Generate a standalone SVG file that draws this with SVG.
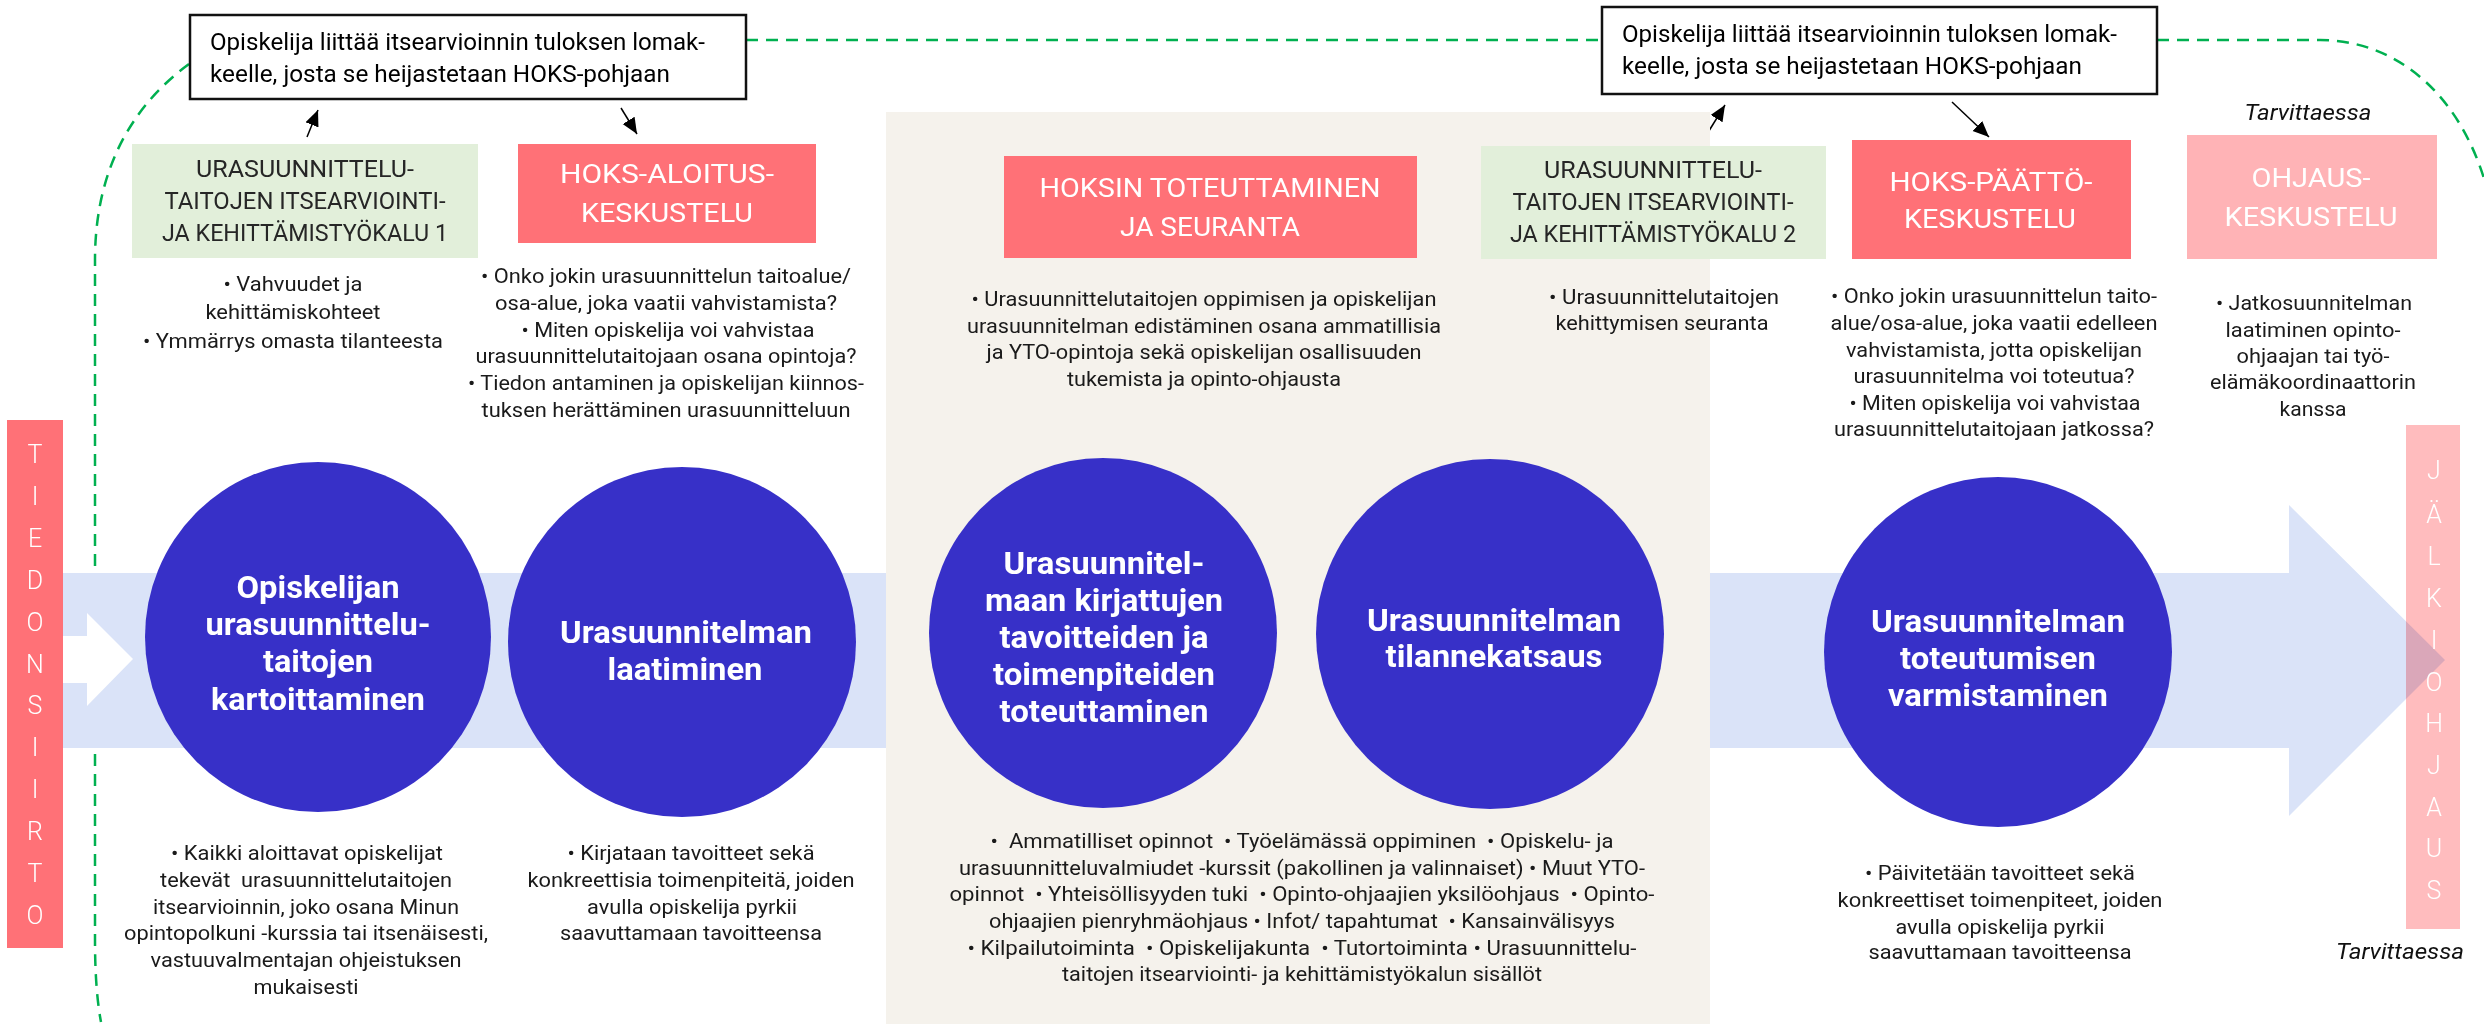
<svg xmlns="http://www.w3.org/2000/svg" width="2484" height="1024" viewBox="0 0 2484 1024">
<defs>
<style>
text{font-family:Roboto,"Liberation Sans",sans-serif}
.bt{font-size:24px;fill:#000}
.b{font-size:21px;fill:#1a1a1a;text-anchor:middle}
.gt{font-size:24px;fill:#262626;text-anchor:middle}
.rt{font-size:26px;fill:#fff;text-anchor:middle;font-weight:400}
.ct{font-size:31px;fill:#fff;text-anchor:middle;font-weight:bold}
.vt{font-size:25px;fill:#fff;text-anchor:middle;font-weight:300}
.it{font-size:22px;fill:#111;text-anchor:middle;font-style:italic}
.pre{white-space:pre}
.dash{fill:none;stroke:#00B050;stroke-width:2.5;stroke-dasharray:12 8}
.arr{stroke:#000;stroke-width:1.5;fill:none}
.red{fill:#FF7177}
.green{fill:#E2EFDA}
.circ{fill:#3730C8}
</style>
<marker id="ah" markerUnits="userSpaceOnUse" markerWidth="17" markerHeight="15" refX="16" refY="7" orient="auto">
<path d="M0,0 L16,7 L0,14 z" fill="#000"/>
</marker>
</defs>
<rect width="2484" height="1024" fill="#fff"/>

<g id="connectors">
<path class="dash" d="M746,40 H1602"/>
<path class="dash" d="M189,64 C140,100 95,160 95,260 V940 Q95,990 101,1022"/>
<path class="dash" d="M2157,40 H2320 C2400,40 2470,100 2492,210"/>
<line class="arr" x1="307" y1="137" x2="318" y2="110" marker-end="url(#ah)"/>
<line class="arr" x1="621" y1="108" x2="637" y2="134" marker-end="url(#ah)"/>
<line class="arr" x1="1707" y1="134" x2="1725" y2="105" marker-end="url(#ah)"/>
<line class="arr" x1="1952" y1="102" x2="1989" y2="137" marker-end="url(#ah)"/>
</g>

<g id="flow-arrow">
<path d="M40,573 H2289 V505 L2445,660 L2289,816 V748 H40 Z" fill="#DAE3F8"/>
<path d="M63,636 H87 V613 L133,659 L87,706 V683 H63 Z" fill="#fff"/>
</g>

<g id="phase-panel">
<rect x="886" y="112" width="824" height="912" fill="#F5F2EC"/>
</g>

<g id="note-box-1">
<rect x="190" y="15" width="556" height="84" fill="#fff" stroke="#111" stroke-width="2.5"/>
<text class="bt" x="210" y="50" textLength="495" lengthAdjust="spacingAndGlyphs">Opiskelija liittää itsearvioinnin tuloksen lomak-</text>
<text class="bt" x="210" y="82" textLength="460" lengthAdjust="spacingAndGlyphs">keelle, josta se heijastetaan HOKS-pohjaan</text>
</g>

<g id="note-box-2">
<rect x="1602" y="7" width="555" height="87" fill="#fff" stroke="#111" stroke-width="2.5"/>
<text class="bt" x="1622" y="42" textLength="495" lengthAdjust="spacingAndGlyphs">Opiskelija liittää itsearvioinnin tuloksen lomak-</text>
<text class="bt" x="1622" y="74" textLength="460" lengthAdjust="spacingAndGlyphs">keelle, josta se heijastetaan HOKS-pohjaan</text>
</g>

<g id="tiedonsiirto">
<rect x="7" y="420" width="56" height="528" class="red"/>
<text class="vt" x="35" y="463">T</text>
<text class="vt" x="35" y="505">I</text>
<text class="vt" x="35" y="547">E</text>
<text class="vt" x="35" y="589">D</text>
<text class="vt" x="35" y="631">O</text>
<text class="vt" x="35" y="673">N</text>
<text class="vt" x="35" y="714">S</text>
<text class="vt" x="35" y="756">I</text>
<text class="vt" x="35" y="798">I</text>
<text class="vt" x="35" y="840">R</text>
<text class="vt" x="35" y="882">T</text>
<text class="vt" x="35" y="924">O</text>
</g>

<g id="itsearviointi-1">
<rect x="132" y="144" width="346" height="114" class="green"/>
<text class="gt" x="305" y="177" textLength="218" lengthAdjust="spacingAndGlyphs">URASUUNNITTELU-</text>
<text class="gt" x="305" y="209" textLength="281" lengthAdjust="spacingAndGlyphs">TAITOJEN ITSEARVIOINTI-</text>
<text class="gt" x="305" y="241" textLength="286" lengthAdjust="spacingAndGlyphs">JA KEHITTÄMISTYÖKALU 1</text>
<text class="b" x="293" y="291" textLength="139" lengthAdjust="spacingAndGlyphs">• Vahvuudet ja</text>
<text class="b" x="293" y="319" textLength="175" lengthAdjust="spacingAndGlyphs">kehittämiskohteet</text>
<text class="b" x="293" y="348" textLength="300" lengthAdjust="spacingAndGlyphs">• Ymmärrys omasta tilanteesta</text>
</g>

<g id="hoks-aloitus">
<rect x="518" y="144" width="298" height="99" class="red"/>
<text class="rt" x="667" y="183" textLength="214" lengthAdjust="spacingAndGlyphs">HOKS-ALOITUS-</text>
<text class="rt" x="667" y="222" textLength="172" lengthAdjust="spacingAndGlyphs">KESKUSTELU</text>
<text class="b" x="666" y="283" textLength="370" lengthAdjust="spacingAndGlyphs">• Onko jokin urasuunnittelun taitoalue/</text>
<text class="b" x="666" y="310" textLength="342" lengthAdjust="spacingAndGlyphs">osa-alue, joka vaatii vahvistamista?</text>
<text class="b" x="668" y="337" textLength="293" lengthAdjust="spacingAndGlyphs">• Miten opiskelija voi vahvistaa</text>
<text class="b" x="666" y="363" textLength="381" lengthAdjust="spacingAndGlyphs">urasuunnittelutaitojaan osana opintoja?</text>
<text class="b" x="666" y="390" textLength="396" lengthAdjust="spacingAndGlyphs">• Tiedon antaminen ja opiskelijan kiinnos-</text>
<text class="b" x="666" y="417" textLength="369" lengthAdjust="spacingAndGlyphs">tuksen herättäminen urasuunnitteluun</text>
</g>

<g id="hoksin-toteuttaminen">
<rect x="1004" y="156" width="413" height="102" class="red"/>
<text class="rt" x="1210" y="197" textLength="341" lengthAdjust="spacingAndGlyphs">HOKSIN TOTEUTTAMINEN</text>
<text class="rt" x="1210" y="236" textLength="180" lengthAdjust="spacingAndGlyphs">JA SEURANTA</text>
<text class="b" x="1204" y="306" textLength="465" lengthAdjust="spacingAndGlyphs">• Urasuunnittelutaitojen oppimisen ja opiskelijan</text>
<text class="b" x="1204" y="333" textLength="474" lengthAdjust="spacingAndGlyphs">urasuunnitelman edistäminen osana ammatillisia</text>
<text class="b" x="1204" y="359" textLength="435" lengthAdjust="spacingAndGlyphs">ja YTO-opintoja sekä opiskelijan osallisuuden</text>
<text class="b" x="1204" y="386" textLength="274" lengthAdjust="spacingAndGlyphs">tukemista ja opinto-ohjausta</text>
</g>

<g id="itsearviointi-2">
<rect x="1481" y="146" width="345" height="113" class="green"/>
<text class="gt" x="1653" y="178" textLength="218" lengthAdjust="spacingAndGlyphs">URASUUNNITTELU-</text>
<text class="gt" x="1653" y="210" textLength="281" lengthAdjust="spacingAndGlyphs">TAITOJEN ITSEARVIOINTI-</text>
<text class="gt" x="1653" y="242" textLength="286" lengthAdjust="spacingAndGlyphs">JA KEHITTÄMISTYÖKALU 2</text>
<text class="b" x="1664" y="304" textLength="230" lengthAdjust="spacingAndGlyphs">• Urasuunnittelutaitojen</text>
<text class="b" x="1662" y="330" textLength="213" lengthAdjust="spacingAndGlyphs">kehittymisen seuranta</text>
</g>

<g id="hoks-paatto">
<rect x="1852" y="140" width="279" height="119" class="red"/>
<text class="rt" x="1991" y="191" textLength="203" lengthAdjust="spacingAndGlyphs">HOKS-PÄÄTTÖ-</text>
<text class="rt" x="1990" y="228" textLength="172" lengthAdjust="spacingAndGlyphs">KESKUSTELU</text>
<text class="b" x="1994" y="303" textLength="326" lengthAdjust="spacingAndGlyphs">• Onko jokin urasuunnittelun taito-</text>
<text class="b" x="1994" y="330" textLength="327" lengthAdjust="spacingAndGlyphs">alue/osa-alue, joka vaatii edelleen</text>
<text class="b" x="1994" y="357" textLength="296" lengthAdjust="spacingAndGlyphs">vahvistamista, jotta opiskelijan</text>
<text class="b" x="1994" y="383" textLength="281" lengthAdjust="spacingAndGlyphs">urasuunnitelma voi toteutua?</text>
<text class="b" x="1995" y="410" textLength="291" lengthAdjust="spacingAndGlyphs">• Miten opiskelija voi vahvistaa</text>
<text class="b" x="1994" y="436" textLength="320" lengthAdjust="spacingAndGlyphs">urasuunnittelutaitojaan jatkossa?</text>
</g>

<g id="ohjaus">
<text class="it" x="2308" y="120" textLength="127" lengthAdjust="spacingAndGlyphs">Tarvittaessa</text>
<rect x="2187" y="135" width="250" height="124" fill="#FFB3B6"/>
<text class="rt" x="2311" y="187" textLength="119" lengthAdjust="spacingAndGlyphs">OHJAUS-</text>
<text class="rt" x="2311" y="226" textLength="173" lengthAdjust="spacingAndGlyphs">KESKUSTELU</text>
<text class="b" x="2314" y="310" textLength="196" lengthAdjust="spacingAndGlyphs">• Jatkosuunnitelman</text>
<text class="b" x="2313" y="337" textLength="175" lengthAdjust="spacingAndGlyphs">laatiminen opinto-</text>
<text class="b" x="2313" y="363" textLength="153" lengthAdjust="spacingAndGlyphs">ohjaajan tai työ-</text>
<text class="b" x="2313" y="389" textLength="206" lengthAdjust="spacingAndGlyphs">elämäkoordinaattorin</text>
<text class="b" x="2313" y="416" textLength="67" lengthAdjust="spacingAndGlyphs">kanssa</text>
</g>

<g id="jalkiohjaus">
<rect x="2406" y="425" width="54" height="504" fill="#FFBCBE" style="mix-blend-mode:multiply"/>
<text class="vt" x="2434" y="479">J</text>
<text class="vt" x="2434" y="523">Ä</text>
<text class="vt" x="2434" y="565">L</text>
<text class="vt" x="2434" y="607">K</text>
<text class="vt" x="2434" y="649">I</text>
<text class="vt" x="2434" y="691">O</text>
<text class="vt" x="2434" y="732">H</text>
<text class="vt" x="2434" y="774">J</text>
<text class="vt" x="2434" y="816">A</text>
<text class="vt" x="2434" y="857">U</text>
<text class="vt" x="2434" y="899">S</text>
<text class="it" x="2400" y="959" textLength="128" lengthAdjust="spacingAndGlyphs">Tarvittaessa</text>
</g>

<g id="kartoittaminen">
<ellipse cx="318" cy="637" rx="173" ry="175" class="circ"/>
<text class="ct" x="318" y="598" textLength="163" lengthAdjust="spacingAndGlyphs">Opiskelijan</text>
<text class="ct" x="318" y="635" textLength="225" lengthAdjust="spacingAndGlyphs">urasuunnittelu-</text>
<text class="ct" x="318" y="672" textLength="110" lengthAdjust="spacingAndGlyphs">taitojen</text>
<text class="ct" x="318" y="710" textLength="214" lengthAdjust="spacingAndGlyphs">kartoittaminen</text>
<text class="b" x="307" y="860" textLength="272" lengthAdjust="spacingAndGlyphs">• Kaikki aloittavat opiskelijat</text>
<text class="b pre" x="306" y="887" textLength="292" lengthAdjust="spacingAndGlyphs">tekevät  urasuunnittelutaitojen</text>
<text class="b" x="306" y="914" textLength="306" lengthAdjust="spacingAndGlyphs">itsearvioinnin, joko osana Minun</text>
<text class="b" x="306" y="940" textLength="364" lengthAdjust="spacingAndGlyphs">opintopolkuni -kurssia tai itsenäisesti,</text>
<text class="b" x="306" y="967" textLength="311" lengthAdjust="spacingAndGlyphs">vastuuvalmentajan ohjeistuksen</text>
<text class="b" x="306" y="994" textLength="105" lengthAdjust="spacingAndGlyphs">mukaisesti</text>
</g>

<g id="laatiminen">
<ellipse cx="682" cy="642" rx="174" ry="175" class="circ"/>
<text class="ct" x="686" y="643" textLength="252" lengthAdjust="spacingAndGlyphs">Urasuunnitelman</text>
<text class="ct" x="685" y="680" textLength="155" lengthAdjust="spacingAndGlyphs">laatiminen</text>
<text class="b" x="691" y="860" textLength="247" lengthAdjust="spacingAndGlyphs">• Kirjataan tavoitteet sekä</text>
<text class="b" x="691" y="887" textLength="327" lengthAdjust="spacingAndGlyphs">konkreettisia toimenpiteitä, joiden</text>
<text class="b" x="692" y="914" textLength="210" lengthAdjust="spacingAndGlyphs">avulla opiskelija pyrkii</text>
<text class="b" x="691" y="940" textLength="262" lengthAdjust="spacingAndGlyphs">saavuttamaan tavoitteensa</text>
</g>

<g id="toteuttaminen">
<ellipse cx="1103" cy="633" rx="174" ry="175" class="circ"/>
<text class="ct" x="1104" y="574" textLength="201" lengthAdjust="spacingAndGlyphs">Urasuunnitel-</text>
<text class="ct" x="1104" y="611" textLength="238" lengthAdjust="spacingAndGlyphs">maan kirjattujen</text>
<text class="ct" x="1104" y="648" textLength="209" lengthAdjust="spacingAndGlyphs">tavoitteiden ja</text>
<text class="ct" x="1104" y="685" textLength="222" lengthAdjust="spacingAndGlyphs">toimenpiteiden</text>
<text class="ct" x="1104" y="722" textLength="209" lengthAdjust="spacingAndGlyphs">toteuttaminen</text>
</g>

<g id="tilannekatsaus">
<ellipse cx="1490" cy="634" rx="174" ry="175" class="circ"/>
<text class="ct" x="1494" y="631" textLength="254" lengthAdjust="spacingAndGlyphs">Urasuunnitelman</text>
<text class="ct" x="1494" y="667" textLength="217" lengthAdjust="spacingAndGlyphs">tilannekatsaus</text>
</g>

<g id="toteutuminen-list">
<text class="b pre" x="1302" y="848" textLength="623" lengthAdjust="spacingAndGlyphs">•  Ammatilliset opinnot  • Työelämässä oppiminen  • Opiskelu- ja</text>
<text class="b pre" x="1302" y="875" textLength="686" lengthAdjust="spacingAndGlyphs">urasuunnitteluvalmiudet -kurssit (pakollinen ja valinnaiset) • Muut YTO-</text>
<text class="b pre" x="1302" y="901" textLength="705" lengthAdjust="spacingAndGlyphs">opinnot  • Yhteisöllisyyden tuki  • Opinto-ohjaajien yksilöohjaus  • Opinto-</text>
<text class="b pre" x="1302" y="928" textLength="626" lengthAdjust="spacingAndGlyphs">ohjaajien pienryhmäohjaus • Infot/ tapahtumat  • Kansainvälisyys</text>
<text class="b pre" x="1302" y="955" textLength="669" lengthAdjust="spacingAndGlyphs">• Kilpailutoiminta  • Opiskelijakunta  • Tutortoiminta • Urasuunnittelu-</text>
<text class="b" x="1302" y="981" textLength="480" lengthAdjust="spacingAndGlyphs">taitojen itsearviointi- ja kehittämistyökalun sisällöt</text>
</g>

<g id="varmistaminen">
<ellipse cx="1998" cy="652" rx="174" ry="175" class="circ"/>
<text class="ct" x="1998" y="632" textLength="254" lengthAdjust="spacingAndGlyphs">Urasuunnitelman</text>
<text class="ct" x="1998" y="669" textLength="196" lengthAdjust="spacingAndGlyphs">toteutumisen</text>
<text class="ct" x="1998" y="706" textLength="220" lengthAdjust="spacingAndGlyphs">varmistaminen</text>
<text class="b" x="2000" y="880" textLength="270" lengthAdjust="spacingAndGlyphs">• Päivitetään tavoitteet sekä</text>
<text class="b" x="2000" y="907" textLength="325" lengthAdjust="spacingAndGlyphs">konkreettiset toimenpiteet, joiden</text>
<text class="b" x="2000" y="934" textLength="209" lengthAdjust="spacingAndGlyphs">avulla opiskelija pyrkii</text>
<text class="b" x="2000" y="959" textLength="263" lengthAdjust="spacingAndGlyphs">saavuttamaan tavoitteensa</text>
</g>
</svg>
